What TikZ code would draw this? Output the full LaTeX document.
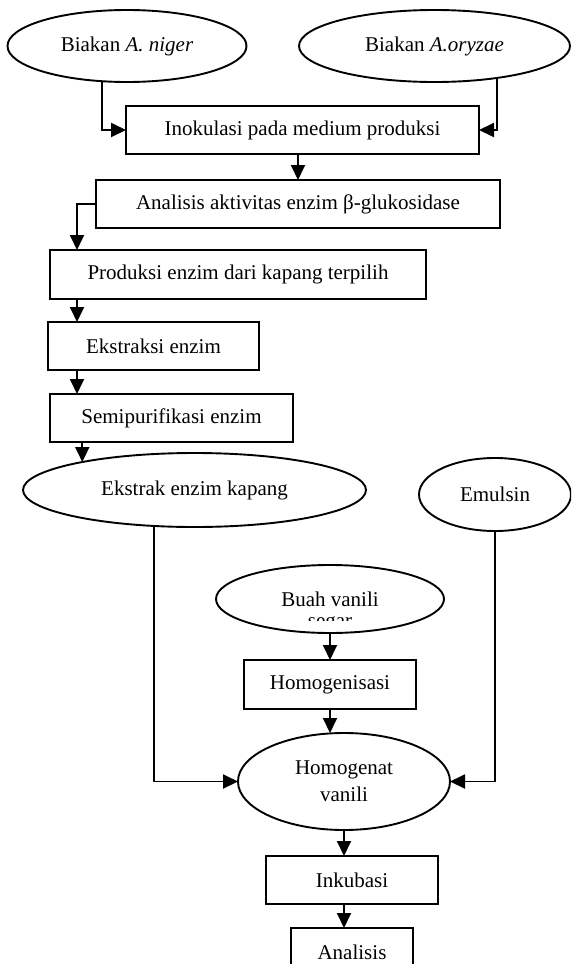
\documentclass[tikz,border=0pt]{standalone}
\usepackage{fontspec}
\setmainfont{Liberation Serif}
\usetikzlibrary{arrows.meta, positioning, shapes.geometric}

\begin{document}
\begin{tikzpicture}[x=1pt,y=-1pt,inner sep=0pt,outer sep=0pt,line width=1.9pt,
  font=\fontsize{21}{27}\selectfont,
  kotak/.style={draw,rectangle,minimum height=48pt},
  elips/.style={draw,ellipse,align=center},
  panah/.style={-{Triangle[length=15pt,width=14pt]}}]
\useasboundingbox (0,0) rectangle (571,964);
\clip (0,0) rectangle (571,964);
% bahan awal
\node[elips,minimum width=239pt,minimum height=72pt] (niger) at (127,46) {Biakan \textit{A. niger}};
\node[elips,minimum width=271pt,minimum height=72pt] (oryzae) at (434.5,46) {Biakan \textit{A.oryzae}};
% produksi enzim kapang
\node[kotak,minimum width=353pt] (inokulasi) at (302.5,130) {Inokulasi pada medium produksi};
\node[kotak,minimum width=404pt] (aktivitas) at (298,204) {Analisis aktivitas enzim β-glukosidase};
\node[kotak,minimum width=376pt,minimum height=49pt] (produksi) at (238,274.5) {Produksi enzim dari kapang terpilih};
\node[kotak,minimum width=211pt] (ekstraksi) at (153.5,346) {Ekstraksi enzim};
\node[kotak,minimum width=243pt] (semipur) at (171.5,418) {Semipurifikasi enzim};
\node[elips,minimum width=343pt,minimum height=74pt] (ekstrak) at (194.5,490) {Ekstrak enzim kapang};
\node[elips,minimum width=152pt,minimum height=73pt] (emulsin) at (495,494.5) {Emulsin};
% vanili
\node[elips,minimum width=228pt,minimum height=68pt] (buah) at (330,599) {Buah vanili};
\begin{scope}
\clip (216,560) rectangle (444,620);
\node (segar) at (330,624) {segar};
\end{scope}
\node[kotak,minimum width=172pt,minimum height=49pt] (homogenisasi) at (330,684.5) {Homogenisasi};
\node[elips,minimum width=212pt,minimum height=97pt] (homogenat) at (344,781.5) {Homogenat\\vanili};
\node[kotak,minimum width=172pt] (inkubasi) at (352,880) {Inkubasi};
\node[kotak,minimum width=122pt] (analisis) at (352,952) {Analisis};
\coordinate (kiri) at (77,0);
% panah
\draw[panah] (niger.-125) |- (inokulasi.west);
\draw[panah] (oryzae.-27) |- (inokulasi.east);
\draw[panah] (inokulasi.south -| aktivitas) -- (aktivitas.north);
\draw[panah] (aktivitas.west) -| (produksi.north -| kiri);
\draw[panah] (produksi.south -| kiri) -- (ekstraksi.north -| kiri);
\draw[panah] (ekstraksi.south -| kiri) -- (semipur.north -| kiri);
\draw[panah] (semipur.south -| ekstrak.166.5) -- (ekstrak.166.5);
\draw[panah] ([xshift=-40.5pt]ekstrak.south) |- (homogenat.west);
\draw[panah] (emulsin.south) |- (homogenat.east);
\draw[panah] (buah.south) -- (homogenisasi.north);
\draw[panah] (homogenisasi.south) -- (homogenisasi.south |- homogenat.north);
\draw[panah] (homogenat.south) -- (homogenat.south |- inkubasi.north);
\draw[panah] (homogenat.south |- inkubasi.south) -- (homogenat.south |- analisis.north);
\end{tikzpicture}
\end{document}
